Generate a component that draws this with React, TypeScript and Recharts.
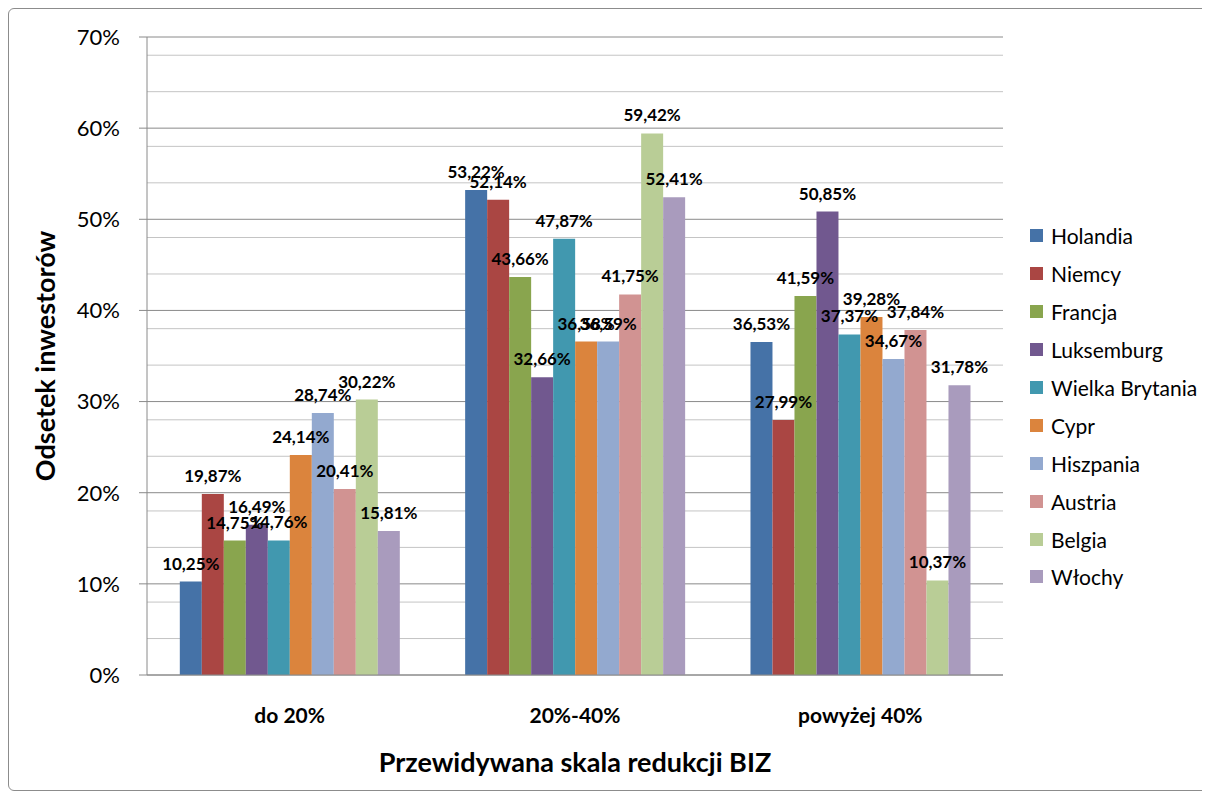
import { Bar, BarChart, CartesianGrid, LabelList, Legend, XAxis, YAxis } from 'recharts';

const categories = ['do 20%', '20%-40%', 'powyżej 40%'];

const holandia = [10.25, 53.22, 36.53];
const niemcy = [19.87, 52.14, 27.99];
const francja = [14.75, 43.66, 41.59];
const luksemburg = [16.49, 32.66, 50.85];
const wielkaBrytania = [14.76, 47.87, 37.37];
const cypr = [24.14, 36.58, 39.28];
const hiszpania = [28.74, 36.59, 34.67];
const austria = [20.41, 41.75, 37.84];
const belgia = [30.22, 59.42, 10.37];
const wlochy = [15.81, 52.41, 31.78];

const majorTicks = [0, 10, 20, 30, 40, 50, 60, 70];
const minorTicks = [2, 4, 6, 8, 12, 14, 16, 18, 22, 24, 26, 28, 32, 34, 36, 38, 42, 44, 46, 48, 52, 54, 56, 58, 62, 64, 66, 68];

const series = [
  { name: 'Holandia', values: holandia, color: '#4572A7' },
  { name: 'Niemcy', values: niemcy, color: '#AA4643' },
  { name: 'Francja', values: francja, color: '#89A54E' },
  { name: 'Luksemburg', values: luksemburg, color: '#71588F' },
  { name: 'Wielka Brytania', values: wielkaBrytania, color: '#4198AF' },
  { name: 'Cypr', values: cypr, color: '#DB843D' },
  { name: 'Hiszpania', values: hiszpania, color: '#93A9CF' },
  { name: 'Austria', values: austria, color: '#D19392' },
  { name: 'Belgia', values: belgia, color: '#B9CD96' },
  { name: 'Włochy', values: wlochy, color: '#A99BBD' },
];

const rows = categories.map((name, i) => {
  const row: Record<string, string | number> = { name };
  series.forEach((s) => {
    row[s.name] = s.values[i];
  });
  return row;
});

const FONT = 'Lato, "Open Sans", sans-serif';

const pct = (v: unknown) => `${Number(v).toFixed(2).replace('.', ',')}%`;

function LegendBox() {
  return (
    <div style={{ paddingLeft: 27 }}>
      {series.map((s) => (
        <div key={s.name} style={{ display: 'flex', alignItems: 'center', height: 37.9 }}>
          <span style={{ width: 13, height: 13, background: s.color, marginRight: 8, flex: 'none' }} />
          <span style={{ fontSize: 21, color: '#000', fontFamily: FONT, whiteSpace: 'nowrap' }}>{s.name}</span>
        </div>
      ))}
    </div>
  );
}

export default function App() {
  return (
    <div
      style={{
        position: 'relative',
        width: 1200,
        height: 783,
        boxSizing: 'border-box',
        border: '1px solid #8c8c8c',
        borderRadius: 6,
        background: '#fff',
        fontFamily: FONT,
      }}
    >
      <BarChart
        width={1198}
        height={781}
        data={rows}
        margin={{ top: 28, right: 24, left: 0, bottom: 15 }}
        barCategoryGap="11.5%"
        barGap={0}
        style={{ fontFamily: FONT }}
      >
        <CartesianGrid vertical={false} horizontalValues={minorTicks} stroke="#c4c4c4" />
        <CartesianGrid vertical={false} horizontalValues={majorTicks} stroke="#8a8a8a" />
        <XAxis
          dataKey="name"
          height={100}
          tickLine={false}
          tickMargin={27}
          axisLine={{ stroke: '#8a8a8a' }}
          tick={{ fill: '#000', fontSize: 21, fontWeight: 700 }}
          label={{
            value: 'Przewidywana skala redukcji BIZ',
            position: 'insideBottom',
            offset: 3,
            fill: '#000',
            fontSize: 27,
            fontWeight: 700,
          }}
        />
        <YAxis
          width={138}
          domain={[0, 70]}
          ticks={majorTicks}
          tickFormatter={(v) => `${v}%`}
          tickSize={8}
          tickMargin={19}
          tickLine={{ stroke: '#8a8a8a' }}
          axisLine={{ stroke: '#8a8a8a' }}
          tick={{ fill: '#000', fontSize: 22 }}
          label={{
            value: 'Odsetek inwestorów',
            angle: -90,
            position: 'insideLeft',
            offset: 36,
            fill: '#000',
            fontSize: 27,
            fontWeight: 700,
            style: { textAnchor: 'middle' },
          }}
        />
        <Legend
          layout="vertical"
          align="right"
          verticalAlign="top"
          wrapperStyle={{ width: 180, top: 208 }}
          content={() => <LegendBox />}
        />
        {series.map((s) => (
          <Bar key={s.name} dataKey={s.name} fill={s.color} isAnimationActive={false}>
            <LabelList
              dataKey={s.name}
              position="top"
              offset={12}
              formatter={pct}
              fill="#000"
              fontSize={17}
              fontWeight={700}
            />
          </Bar>
        ))}
      </BarChart>
    </div>
  );
}
